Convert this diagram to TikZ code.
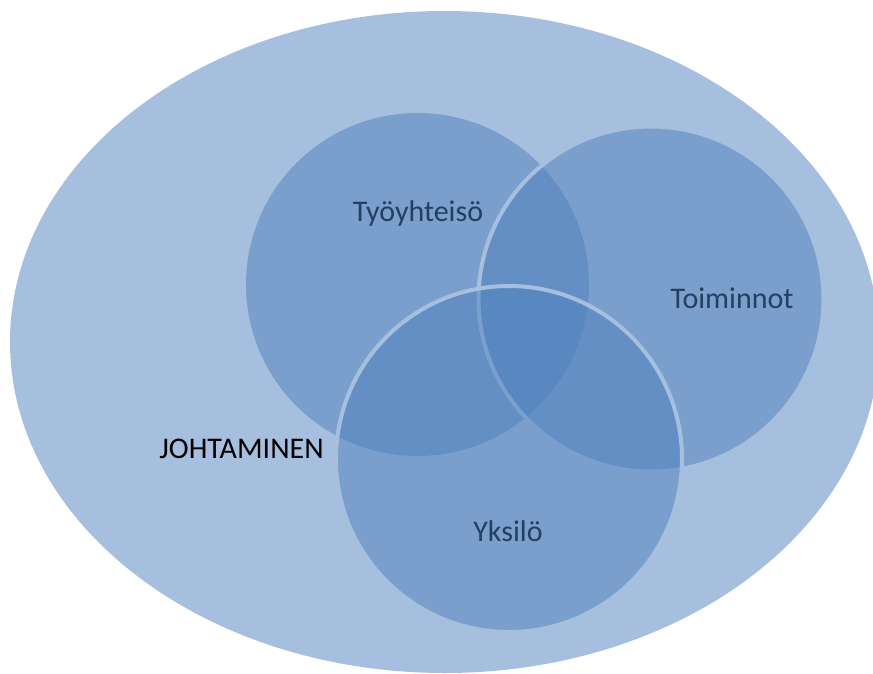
\documentclass[tikz,border=0pt]{standalone}
\usepackage{fontspec}
\setmainfont{Carlito}
\definecolor{ringblue}{HTML}{A7BFDE}
\definecolor{setblue}{HTML}{4F81BD}
\definecolor{labelnavy}{HTML}{243F60}
\begin{document}
\begin{tikzpicture}[x=1pt,y=-1pt,font=\fontsize{30}{36}\selectfont]
	\tikzset{
		setdisc/.style={fill=setblue, fill opacity=0.5},
		setrim/.style={setdisc, draw=ringblue, line width=4pt},
		setlabel/.style={text=labelnavy, anchor=base}
	}
	\useasboundingbox (0,0) rectangle (873,673);
	\fill[ringblue] (444.5,342) ellipse [x radius=434.5, y radius=331];
	\coordinate (tyo) at (417.5,284.5);
	\coordinate (toi) at (651,299);
	\coordinate (yks) at (509,459);
	\path[setdisc] (tyo) circle [radius=171.5];
	\path[setrim] (toi) circle [radius=172.5];
	\path[setrim] (yks) circle [radius=173];
	\node[setlabel] (tyolabel) at (418,221) {Työyhteisö};
	\node[setlabel] (toilabel) at (732,308) {Toiminnot};
	\node[setlabel] (ykslabel) at (508,541) {Yksilö};
	\node[anchor=base] (johto) at (241.5,458) {JOHTAMINEN};
\end{tikzpicture}
\end{document}
